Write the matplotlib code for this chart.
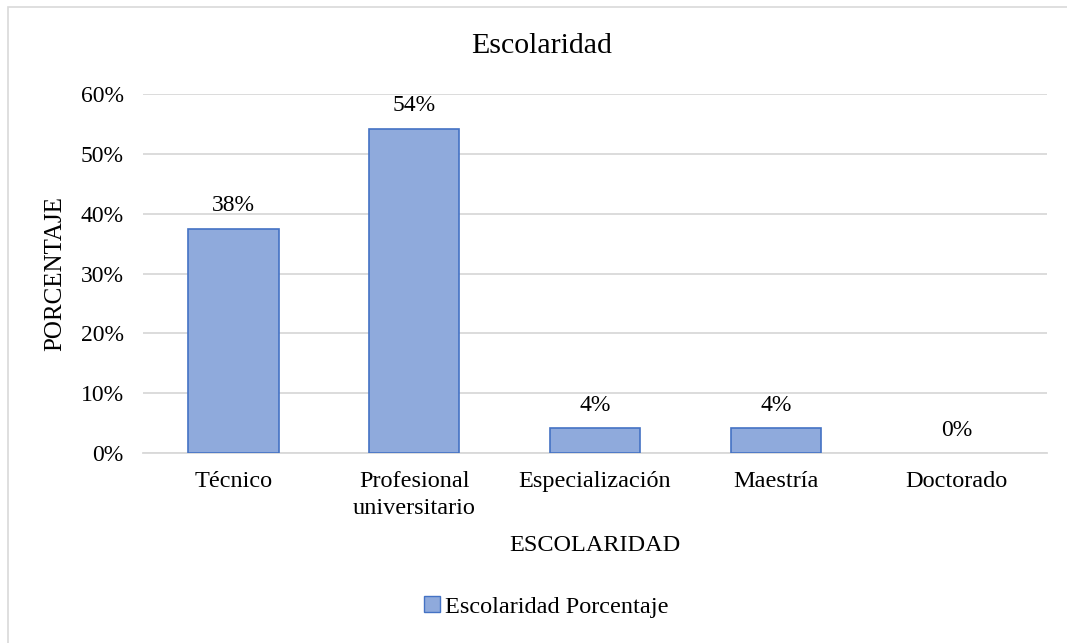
import matplotlib.pyplot as plt
from matplotlib.patches import Rectangle, Patch

# data
categorias = ['Técnico', 'Profesional\nuniversitario', 'Especialización', 'Maestría', 'Doctorado']
porcentajes = [0.375, 0.5417, 0.0417, 0.0417, 0.0]
etiquetas = ['38%', '54%', '4%', '4%', '0%']
yticks = [0, 0.1, 0.2, 0.3, 0.4, 0.5, 0.6]
yticklabels = ['0%', '10%', '20%', '30%', '40%', '50%', '60%']

plt.rcParams['font.family'] = ['Liberation Serif', 'DejaVu Serif']

fig = plt.figure(figsize=(10.67, 6.43), dpi=100)
# chart border (only left/top visible in the reference)
fig.patches.append(Rectangle((8 / 1067, -0.02), 1.05, 1 - 7 / 643 + 0.02,
                             transform=fig.transFigure, fill=False,
                             edgecolor='#D9D9D9', lw=1.2))

ax = fig.add_axes([143 / 1067, 1 - 453 / 643, 904 / 1067, 359 / 643])
x = range(len(categorias))
anchos = [1.2 if v > 0 else 0 for v in porcentajes]
ax.bar(x, porcentajes, width=0.5, color='#8FAADC', edgecolor='#4472C4', linewidth=anchos, zorder=3)
for xi, v, lab in zip(x, porcentajes, etiquetas):
    ax.annotate(lab, (xi, v), xytext=(0, 9), textcoords='offset points',
                ha='center', va='bottom', fontsize=17, color='#000000')

ax.set_xlim(-0.5, len(categorias) - 0.5)
ax.set_ylim(0, 0.6)
ax.set_yticks(yticks)
ax.set_yticklabels(yticklabels, fontsize=17)
ax.set_xticks(list(x))
ax.set_xticklabels(categorias, fontsize=17.5, linespacing=1.4)
ax.tick_params(axis='both', length=0)
ax.tick_params(axis='x', pad=13)
ax.tick_params(axis='y', pad=14)
ax.grid(axis='y', color='#D9D9D9', lw=1.3, zorder=0)
for s in ['top', 'right', 'left']:
    ax.spines[s].set_visible(False)
ax.spines['bottom'].set_color('#D9D9D9')
ax.spines['bottom'].set_linewidth(1.3)

fig.text(542 / 1067, 1 - 53 / 643, 'Escolaridad', fontsize=21.5, ha='center', va='baseline')
ax.set_ylabel('PORCENTAJE', fontsize=18)
ax.yaxis.set_label_coords((66 - 143) / 904, 0.5)
ax.set_xlabel('ESCOLARIDAD', fontsize=17.5)
ax.xaxis.set_label_coords(0.5, -(535 - 453) / 359)

fig.legend(handles=[Patch(facecolor='#8FAADC', edgecolor='#4472C4', label='Escolaridad Porcentaje')],
           loc='center', bbox_to_anchor=(546 / 1067, 1 - 607 / 643), frameon=False,
           fontsize=17.5, handlelength=0.65, handleheight=0.65, handletextpad=0.2)

fig.savefig('out.png', dpi=100)
